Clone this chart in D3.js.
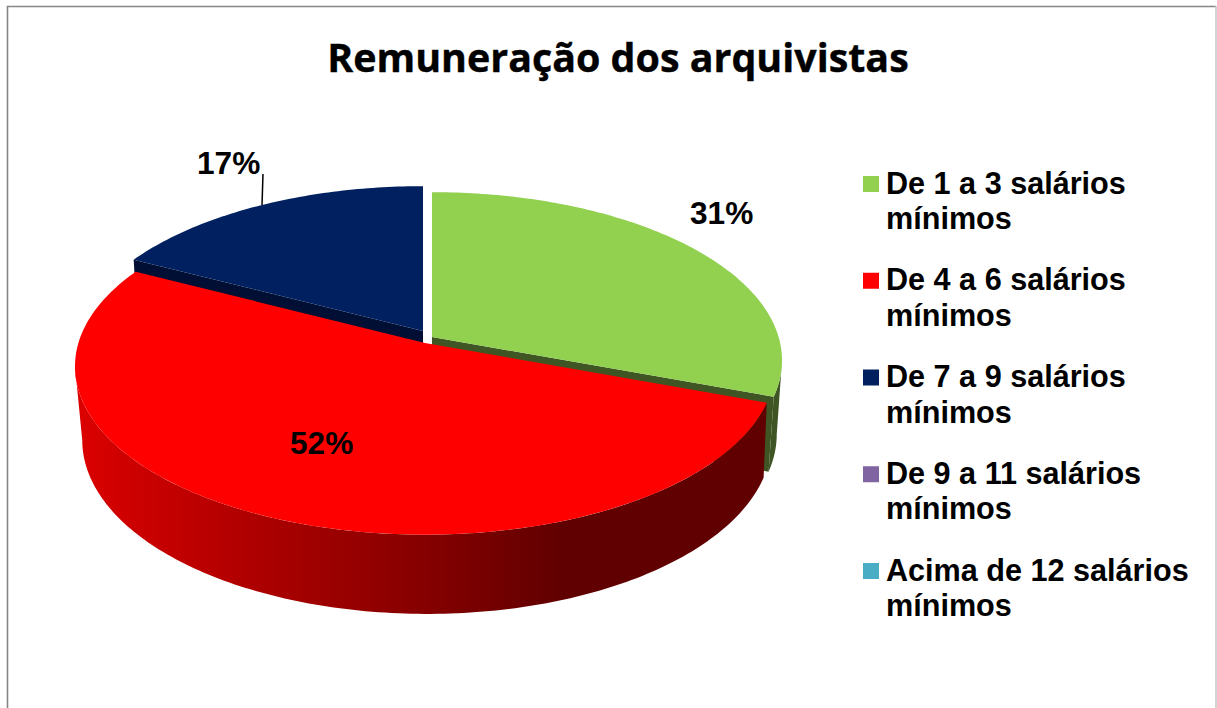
<!DOCTYPE html>
<html><head><meta charset="utf-8">
<script src="https://cdnjs.cloudflare.com/ajax/libs/d3/7.8.5/d3.min.js"></script>
<style>html,body{margin:0;padding:0;background:#fff}svg{display:block}</style>
</head><body><svg id="c" width="1217" height="708"></svg>
<script>
const chartTitle = "Remuneração dos arquivistas";
const categories = ["De 1 a 3 salários mínimos","De 4 a 6 salários mínimos","De 7 a 9 salários mínimos","De 9 a 11 salários mínimos","Acima de 12 salários mínimos"];
const values = [30.6, 52.0, 17.4, 0, 0];
const colors = ["#92d050","#ff0000","#002060","#8064a2","#4bacc6"];
const sideColors = ["#3f5624","#600000","#000f33"];

const W=1217,H=708;
const svg=d3.select("#c");
const Rx=346.6, Ry=165, K=0.139, DEPTH=73, BS=0.985, BRy=170.4;
// tip position of each slice (explosion)
const tips=[{x:432,y:337,bx:0},{x:425,y:343,bx:2},{x:423,y:331,bx:0}];
const pie=d3.pie().sort(null).value(d=>d).startAngle(0).endAngle(2*Math.PI);
const arcs=pie(values);
const tangentRight=Math.acos(-K), tangentLeft=2*Math.PI-Math.acos(-K);
function proj(tip,a,bottom){
  const u=Math.sin(a),v=Math.cos(a),w=1+K*v;
  const rx=bottom?Rx*BS:Rx, ry=bottom?BRy:Ry;
  return [tip.x+(bottom?tip.bx:0)+rx*u/w, tip.y+(bottom?DEPTH:0)-ry*v/w];
}
function sample(a0,a1){const n=Math.max(2,Math.ceil(Math.abs(a1-a0)*60));return d3.range(n+1).map(i=>a0+(a1-a0)*i/n);}
const line=d3.line().curve(d3.curveLinear);
const closed=p=>line(p)+"Z";
const defs=svg.append("defs");
const grad=defs.append("linearGradient").attr("id","redSide").attr("gradientUnits","userSpaceOnUse").attr("x1",75).attr("x2",770).attr("y1",0).attr("y2",0);
[[0,"#dc0000"],[0.242,"#b00000"],[0.507,"#850000"],[0.705,"#600000"],[1,"#600000"]].forEach(s=>grad.append("stop").attr("offset",s[0]).attr("stop-color",s[1]));

// frame
svg.append("path").attr("d","M7.5,708V6.5H1216").attr("fill","none").attr("stroke","#868686").attr("stroke-width",1.6);
svg.append("line").attr("x1",1216).attr("x2",1216).attr("y1",6).attr("y2",708).attr("stroke","#c4c4c4").attr("stroke-width",1.5);

const G=svg.append("g");
function cut(i,a){const t=tips[i];const top=proj(t,a,false),bot=proj(t,a,true);return closed([[t.x,t.y],top,bot,[t.x+t.bx,t.y+DEPTH]]);}
function topFace(i){const t=tips[i],d=arcs[i];return closed([[t.x,t.y],...sample(d.startAngle,d.endAngle).map(a=>proj(t,a,false))]);}
function side(i,a0,a1){const t=tips[i];const s=sample(a0,a1);return closed([...s.map(a=>proj(t,a,false)),...s.slice().reverse().map(a=>proj(t,a,true))]);}
// blue
G.append("path").attr("d",cut(2,arcs[2].startAngle)).attr("fill",sideColors[2]);
G.append("path").attr("d",topFace(2)).attr("fill",colors[2]);
// green
G.append("path").attr("d",side(0,tangentRight,arcs[0].endAngle)).attr("fill",sideColors[0]);
G.append("path").attr("d",cut(0,arcs[0].endAngle)).attr("fill",sideColors[0]);
G.append("path").attr("d",topFace(0)).attr("fill",colors[0]);
// red
G.append("path").attr("d",side(1,arcs[1].startAngle,tangentLeft)).attr("fill","url(#redSide)");
G.append("path").attr("d",topFace(1)).attr("fill",colors[1]);

// title
svg.append("text").attr("x",618).attr("y",72).attr("text-anchor","middle")
  .attr("font-family","'Open Sans'").attr("font-weight",700).attr("font-size",39.4)
  .attr("fill","#000").attr("stroke","#000").attr("stroke-width",0.4).text(chartTitle);

// data labels
const pct=d3.format(".0f");
const labelPos=[[690,224],[290,453.5],[197,174]];
labelPos.forEach((p,i)=>svg.append("text").attr("x",p[0]).attr("y",p[1])
  .attr("font-family","'Liberation Sans'").attr("font-weight",700).attr("font-size",31.6).attr("fill","#000").text(pct(values[i])+"%"));
svg.append("line").attr("x1",263).attr("y1",174).attr("x2",262).attr("y2",205).attr("stroke","#000").attr("stroke-width",1.5);

// legend
const legendY=d3.scaleLinear().domain([0,1]).range([193.5,290.25]);
categories.forEach((c,i)=>{
  const y=legendY(i);
  svg.append("rect").attr("x",863).attr("y",y-17.5).attr("width",16).attr("height",16).attr("fill",colors[i]);
  const words=c.split(" "), last=words.pop();
  const t=svg.append("text").attr("font-family","'Liberation Sans'").attr("font-weight",700).attr("font-size",30.6).attr("fill","#000");
  t.append("tspan").attr("x",886).attr("y",y).text(words.join(" "));
  t.append("tspan").attr("x",886).attr("y",y+35.7).text(last);
});
</script></body></html>
